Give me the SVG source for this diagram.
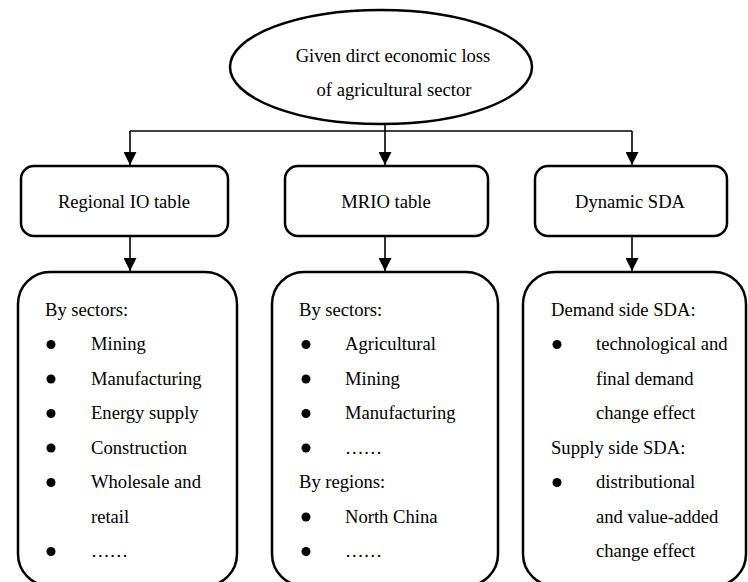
<svg xmlns="http://www.w3.org/2000/svg" width="748" height="582" viewBox="0 0 748 582">
<style>
.box{fill:#fff;stroke:#000;stroke-width:2.5}
.t{font-family:"Liberation Serif","Times New Roman",serif;font-size:18.6px;fill:#000}
.c{text-anchor:middle}
.ln{fill:none;stroke:#000;stroke-width:1.6}
</style>
<defs>
<marker id="ah" viewBox="0 0 10 10" refX="10" refY="5" markerWidth="13" markerHeight="13" markerUnits="userSpaceOnUse" orient="auto">
<path d="M0,0 L10,5 L0,10 Z" fill="#000"/>
</marker>
</defs>
<rect width="748" height="582" fill="#fff"/>
<g id="connectors">
<path class="ln" d="M130,131 H632"/>
<path class="ln" d="M130,131 V165" marker-end="url(#ah)"/>
<path class="ln" d="M385,124 V165" marker-end="url(#ah)"/>
<path class="ln" d="M632,131 V165" marker-end="url(#ah)"/>
<path class="ln" d="M130,236 V271" marker-end="url(#ah)"/>
<path class="ln" d="M385,236 V271" marker-end="url(#ah)"/>
<path class="ln" d="M632,236 V271" marker-end="url(#ah)"/>
</g>
<g id="root">
<ellipse class="box" cx="381" cy="67" rx="151" ry="57"/>
<text class="t c" x="393" y="61.5">Given dirct economic loss</text>
<text class="t c" x="394" y="96">of agricultural sector</text>
</g>
<g id="regional-io">
<rect class="box" x="21" y="166" width="207" height="70" rx="13"/>
<text class="t c" x="124" y="208">Regional IO table</text>
</g>
<g id="mrio">
<rect class="box" x="285" y="166" width="203" height="70" rx="13"/>
<text class="t c" x="386" y="208">MRIO table</text>
</g>
<g id="dynamic-sda">
<rect class="box" x="535" y="166" width="192" height="70" rx="13"/>
<text class="t c" x="630" y="208">Dynamic SDA</text>
</g>
<g id="regional-list">
<rect class="box" x="18" y="272" width="219" height="314" rx="32"/>
<text class="t" x="45" y="316">By sectors:</text>
<circle cx="51" cy="344.5" r="4.5"/><text class="t" x="91" y="350">Mining</text>
<circle cx="51" cy="379" r="4.5"/><text class="t" x="91" y="384.5">Manufacturing</text>
<circle cx="51" cy="413.5" r="4.5"/><text class="t" x="91" y="419">Energy supply</text>
<circle cx="51" cy="448" r="4.5"/><text class="t" x="91" y="453.5">Construction</text>
<circle cx="51" cy="482.5" r="4.5"/><text class="t" x="91" y="488">Wholesale and</text>
<text class="t" x="91" y="522.5">retail</text>
<circle cx="51" cy="551.5" r="4.5"/><text class="t" x="91" y="557">……</text>
</g>
<g id="mrio-list">
<rect class="box" x="272" y="272" width="226" height="314" rx="32"/>
<text class="t" x="299" y="316">By sectors:</text>
<circle cx="306" cy="344.5" r="4.5"/><text class="t" x="345" y="350">Agricultural</text>
<circle cx="306" cy="379" r="4.5"/><text class="t" x="345" y="384.5">Mining</text>
<circle cx="306" cy="413.5" r="4.5"/><text class="t" x="345" y="419">Manufacturing</text>
<circle cx="306" cy="448" r="4.5"/><text class="t" x="345" y="453.5">……</text>
<text class="t" x="299" y="488">By regions:</text>
<circle cx="306" cy="517" r="4.5"/><text class="t" x="345" y="522.5">North China</text>
<circle cx="306" cy="551.5" r="4.5"/><text class="t" x="345" y="557">……</text>
</g>
<g id="sda-list">
<rect class="box" x="523" y="272" width="223" height="314" rx="32"/>
<text class="t" x="551" y="316">Demand side SDA:</text>
<circle cx="557" cy="344.5" r="4.5"/><text class="t" x="596" y="350">technological and</text>
<text class="t" x="596" y="384.5">final demand</text>
<text class="t" x="596" y="419">change effect</text>
<text class="t" x="551" y="453.5">Supply side SDA:</text>
<circle cx="557" cy="482.5" r="4.5"/><text class="t" x="596" y="488">distributional</text>
<text class="t" x="596" y="522.5">and value-added</text>
<text class="t" x="596" y="557">change effect</text>
</g>
</svg>
